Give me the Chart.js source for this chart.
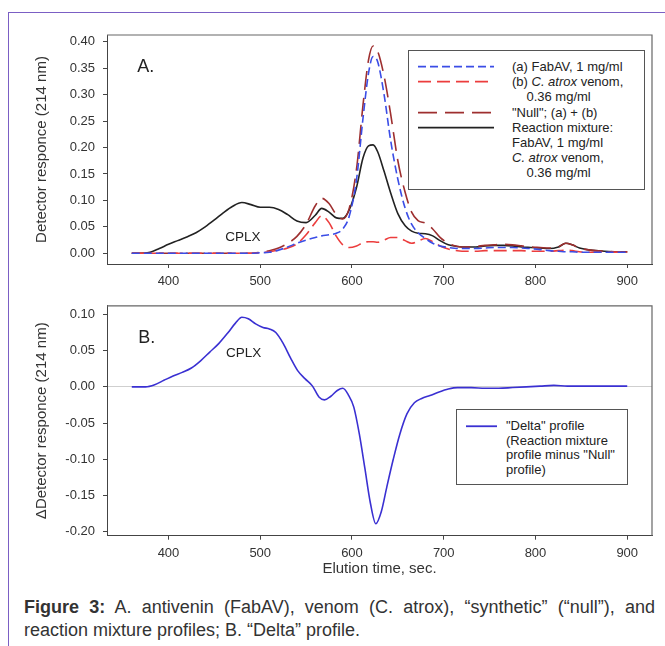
<!DOCTYPE html>
<html>
<head>
<meta charset="utf-8">
<script src="https://cdn.jsdelivr.net/npm/chart.js@4.4.1/dist/chart.umd.min.js"></script>
<style>
  html, body { margin: 0; padding: 0; background: #fff; }
  body { width: 665px; height: 646px; position: relative; overflow: hidden;
         font-family: 'Liberation Sans', Arial, Helvetica, sans-serif; color: #222; }
  canvas { position: absolute; left: 0; }
  #chartA { top: 0; }
  #chartB { top: 290px; }
  .borderTop { position: absolute; left: 8px; top: 12px; width: 657px; border-top: 1.5px solid #7b5fc4; z-index: 5; }
  .borderLeft { position: absolute; left: 8px; top: 12px; height: 634px; border-left: 1.5px solid #7b5fc4; z-index: 5; }
  .legend { position: absolute; box-sizing: border-box; border: 1px solid #555; background: #fff;
            font-size: 13px; color: #222; white-space: nowrap; }
  .entry { display: flex; align-items: flex-start; }
  .entry svg { flex: none; }
  .caption { position: absolute; left: 24px; top: 596px; width: 631px; font-size: 18px;
             line-height: 23px; color: #333; }
  .caption .l1 { display: block; text-align: justify; text-align-last: justify; }
</style>
</head>
<body>
<div class="borderTop"></div>
<div class="borderLeft"></div>
<canvas id="chartA" width="665" height="290"></canvas>
<canvas id="chartB" width="665" height="300"></canvas>
<div id="legendA" class="legend" style="left:408px;top:50px;width:237px;height:140px;padding-top:8px;line-height:15.2px;"></div>
<div id="legendB" class="legend" style="left:456px;top:409px;width:172px;height:76px;padding-top:9px;line-height:14.5px;"></div>
<div class="caption">
  <span class="l1"><b>Figure 3:</b> A. antivenin (FabAV), venom (C. atrox), “synthetic” (“null”), and</span>
  reaction mixture profiles; B. “Delta” profile.
</div>

<script>
"use strict";

// elution times (sec) for panel A
var timeA = [360, 370, 380, 390, 400, 410, 420, 430, 440, 450,
             460, 470, 480, 490, 500, 510, 520, 530, 540, 550,
             560, 567, 575, 583, 590, 597, 605, 612, 618, 623,
             628, 635, 642, 650, 658, 665, 672, 680, 688, 696,
             705, 715, 725, 735, 745, 755, 765, 775, 785, 795,
             805, 815, 825, 833, 840, 848, 860, 875, 890, 900];

// (a) FabAV 1 mg/ml
var fabAV = [0, 0, 0, 0, 0, 0, 0, 0, 0, 0,
             0, 0, 0, 0, 0.001, 0.002, 0.006, 0.012, 0.019, 0.025,
             0.030, 0.033, 0.035, 0.038, 0.046, 0.070, 0.140, 0.255, 0.340, 0.372,
             0.362, 0.300, 0.215, 0.140, 0.085, 0.055, 0.039, 0.028, 0.019, 0.014,
             0.011, 0.009, 0.009, 0.009, 0.010, 0.011, 0.011, 0.011, 0.010, 0.009,
             0.007, 0.005, 0.004, 0.003, 0.003, 0.002, 0.002, 0.002, 0.002, 0.002];

// (b) C. atrox venom 0.36 mg/ml
var venom = [0, 0, 0, 0, 0, 0, 0, 0, 0, 0,
             0, 0, 0, 0, 0.001, 0.003, 0.006, 0.010, 0.018, 0.035,
             0.058, 0.071, 0.058, 0.032, 0.016, 0.011, 0.014, 0.020, 0.022, 0.022,
             0.021, 0.025, 0.030, 0.030, 0.024, 0.019, 0.023, 0.028, 0.022, 0.014,
             0.008, 0.005, 0.004, 0.004, 0.005, 0.005, 0.005, 0.005, 0.005, 0.004,
             0.004, 0.004, 0.005, 0.006, 0.005, 0.003, 0.002, 0.002, 0.002, 0.002];

// "Null" = (a) + (b)
var nullSum = [0, 0, 0, 0, 0, 0, 0, 0, 0, 0,
               0, 0, 0, 0, 0.002, 0.005, 0.010, 0.019, 0.032, 0.055,
               0.090, 0.104, 0.094, 0.073, 0.065, 0.085, 0.160, 0.280, 0.365, 0.392,
               0.382, 0.335, 0.265, 0.175, 0.115, 0.078, 0.062, 0.057, 0.046, 0.030,
               0.019, 0.013, 0.012, 0.013, 0.015, 0.016, 0.017, 0.016, 0.014, 0.012,
               0.011, 0.010, 0.012, 0.019, 0.016, 0.010, 0.006, 0.004, 0.003, 0.003];

// reaction mixture
var mixture = [0.000, 0.000, 0.002, 0.009, 0.017, 0.024, 0.031, 0.039, 0.050, 0.063,
               0.077, 0.089, 0.096, 0.092, 0.087, 0.087, 0.083, 0.073, 0.061, 0.058,
               0.072, 0.085, 0.078, 0.067, 0.066, 0.082, 0.125, 0.180, 0.203, 0.205,
               0.192, 0.155, 0.115, 0.075, 0.052, 0.042, 0.038, 0.037, 0.033, 0.024,
               0.016, 0.013, 0.012, 0.012, 0.014, 0.015, 0.015, 0.014, 0.012, 0.011,
               0.010, 0.009, 0.012, 0.019, 0.016, 0.010, 0.006, 0.004, 0.003, 0.003];

// panel B: "Delta" profile
var timeB = [360, 375, 385, 395, 405, 415, 425, 435, 445, 455,
             465, 473, 480, 487, 495, 503, 510, 517, 525, 533,
             541, 549, 557, 564, 570, 577, 584, 590, 596, 602,
             608, 614, 620, 626, 632, 638, 645, 652, 660, 668,
             676, 685, 695, 705, 715, 730, 745, 760, 775, 790,
             805, 820, 835, 850, 870, 900];
var delta = [0.000, 0.000, 0.003, 0.009, 0.015, 0.020, 0.026, 0.036, 0.048, 0.060,
             0.075, 0.088, 0.096, 0.094, 0.087, 0.082, 0.080, 0.075, 0.060, 0.040,
             0.022, 0.011, 0.001, -0.014, -0.018, -0.013, -0.005, -0.002, -0.011, -0.028,
             -0.065, -0.112, -0.160, -0.189, -0.172, -0.138, -0.100, -0.066, -0.037, -0.022,
             -0.016, -0.012, -0.007, -0.003, -0.001, -0.001, -0.002, -0.002, -0.001, 0.000,
             0.001, 0.002, 0.001, 0.001, 0.001, 0.001];

var xTicks = [400, 500, 600, 700, 800, 900];
var yTicksA = [0, 0.05, 0.10, 0.15, 0.20, 0.25, 0.30, 0.35, 0.40];
var yTicksB = [-0.20, -0.15, -0.10, -0.05, 0, 0.05, 0.10];

var FONT = "'Liberation Sans', Arial, Helvetica, sans-serif";

var pts = function(xs, ys) {
  return xs.map(function(x, i) { return {x: x, y: ys[i]}; });
};

var series = function(label, xs, ys, color, dash, legend) {
  return {
    label: label, data: pts(xs, ys), borderColor: color, borderDash: dash,
    borderWidth: 1.6, pointRadius: 0, fill: false,
    cubicInterpolationMode: 'monotone', legendText: legend
  };
};

var xAxis = function(axisHeight, title) {
  return {
    type: 'linear', min: 333, max: 927,
    afterBuildTicks: function(s) { s.ticks = xTicks.map(function(v) { return {value: v}; }); },
    afterFit: function(s) { s.height = axisHeight; },
    grid: { drawOnChartArea: false, drawTicks: true, tickLength: 4, tickColor: '#444' },
    border: { display: true, color: '#444', width: 1 },
    ticks: { font: {family: FONT, size: 13}, color: '#333', padding: 6, maxRotation: 0,
             callback: function(v) { return String(v); } },
    title: title ? { display: true, text: title, font: {family: FONT, size: 15}, color: '#333',
                     padding: {top: 0, bottom: 12} } : { display: false }
  };
};

var yAxis = function(min, max, ticks, title, zeroLine) {
  return {
    type: 'linear', min: min, max: max,
    afterBuildTicks: function(s) { s.ticks = ticks.map(function(v) { return {value: v}; }); },
    afterFit: function(s) { s.width = 107; },
    grid: {
      drawOnChartArea: !!zeroLine, drawTicks: true, tickLength: 4, tickColor: '#444',
      color: function(c) { return c.tick && Math.abs(c.tick.value) < 1e-9 ? '#cfcfcf' : 'rgba(0,0,0,0)'; }
    },
    border: { display: true, color: '#444', width: 1 },
    ticks: { font: {family: FONT, size: 13}, color: '#333', padding: 8,
             callback: function(v) { return v.toFixed(2); } },
    title: { display: true, text: title, font: {family: FONT, size: 15}, color: '#333',
             padding: {top: 33, bottom: 0} }
  };
};

// top/right frame lines and text notes on the plot
var framePlugin = {
  id: 'frame',
  afterDraw: function(chart) {
    var a = chart.chartArea, ctx = chart.ctx;
    ctx.save();
    ctx.strokeStyle = '#666';
    ctx.lineWidth = 1.2;
    ctx.beginPath();
    ctx.moveTo(a.left, a.top);
    ctx.lineTo(a.right, a.top);
    ctx.lineTo(a.right, a.bottom);
    ctx.stroke();
    var notes = chart.options.plugins.frame.notes || [];
    notes.forEach(function(n) {
      ctx.font = n.size + 'px ' + FONT;
      ctx.fillStyle = '#222';
      ctx.textAlign = n.align;
      ctx.textBaseline = 'middle';
      ctx.fillText(n.text, chart.scales.x.getPixelForValue(n.x), chart.scales.y.getPixelForValue(n.y));
    });
    ctx.restore();
  }
};

var baseOptions = function(padTop, x, y, notes) {
  return {
    responsive: false, animation: false, devicePixelRatio: 1,
    layout: { padding: {top: padTop, right: 13, left: 0, bottom: 0} },
    scales: { x: x, y: y },
    plugins: { legend: {display: false}, tooltip: {enabled: false}, frame: {notes: notes} }
  };
};

var chartA = new Chart(document.getElementById('chartA'), {
  type: 'line',
  data: { datasets: [
    series('(a) FabAV', timeA, fabAV, '#3b4de6', [8, 4], ['(a) FabAV, 1 mg/ml']),
    series('(b) venom', timeA, venom, '#ec3d3d', [13, 6], ['(b) <i>C. atrox</i> venom,', '&nbsp;&nbsp;&nbsp;&nbsp;0.36 mg/ml']),
    series('Null', timeA, nullSum, '#9e2f2f', [19, 8], ['"Null"; (a) + (b)']),
    series('Reaction mixture', timeA, mixture, '#222222', [], ['Reaction mixture:', 'FabAV, 1 mg/ml', '<i>C. atrox</i> venom,', '&nbsp;&nbsp;&nbsp;&nbsp;0.36 mg/ml'])
  ]},
  options: baseOptions(35, xAxis(26, null), yAxis(-0.0202, 0.4127, yTicksA, 'Detector responce (214 nm)', false), [
    {text: 'A.', x: 366, y: 0.352, size: 18, align: 'left'},
    {text: 'CPLX', x: 481, y: 0.031, size: 13.5, align: 'center'}
  ]),
  plugins: [framePlugin]
});

var chartB = new Chart(document.getElementById('chartB'), {
  type: 'line',
  data: { datasets: [
    series('Delta', timeB, delta, '#3a30d2', [], ['"Delta" profile', '(Reaction mixture', 'profile minus "Null"', 'profile)'])
  ]},
  options: baseOptions(15.7, xAxis(54.3, 'Elution time, sec.'), yAxis(-0.2055, 0.1119, yTicksB, '\u0394Detector responce (214 nm)', true), [
    {text: 'B.', x: 367, y: 0.067, size: 18, align: 'left'},
    {text: 'CPLX', x: 482, y: 0.0465, size: 13.5, align: 'center'}
  ]),
  plugins: [framePlugin]
});

// html legend built from the datasets
var buildLegend = function(chart, el, sampleLeft, sampleWidth, gap, lineH) {
  chart.data.datasets.forEach(function(ds) {
    var row = document.createElement('div');
    row.className = 'entry';
    var mid = lineH / 2;
    row.innerHTML =
      '<svg width="' + (sampleLeft + sampleWidth + gap) + '" height="' + lineH + '">' +
      '<line x1="' + sampleLeft + '" y1="' + mid + '" x2="' + (sampleLeft + sampleWidth) + '" y2="' + mid + '"' +
      ' stroke="' + ds.borderColor + '" stroke-width="1.8"' +
      (ds.borderDash.length ? ' stroke-dasharray="' + ds.borderDash.join(',') + '"' : '') + '/></svg>' +
      '<div>' + ds.legendText.join('<br>') + '</div>';
    el.appendChild(row);
  });
};
buildLegend(chartA, document.getElementById('legendA'), 9, 76, 18, 15.2);
buildLegend(chartB, document.getElementById('legendB'), 9, 31, 9, 14.5);
</script>
</body>
</html>
